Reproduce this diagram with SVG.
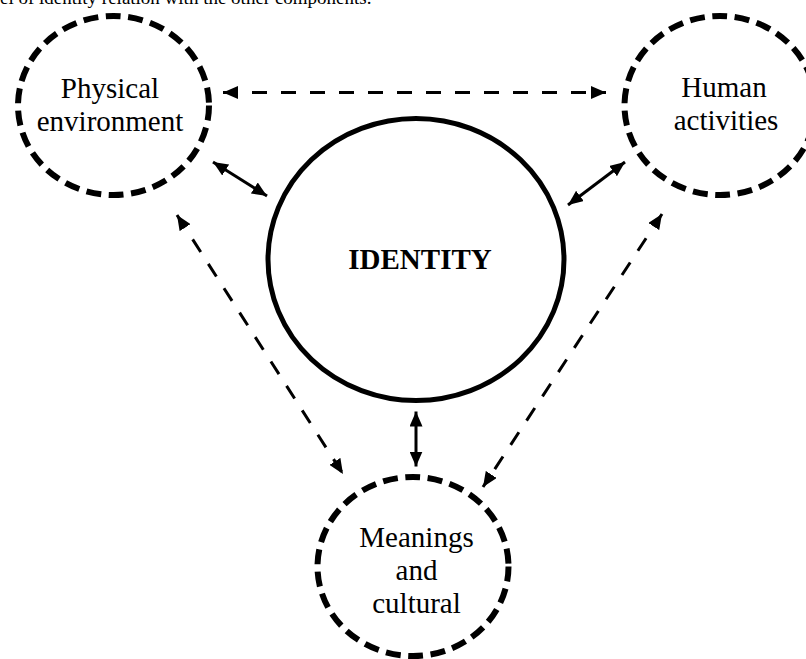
<svg xmlns="http://www.w3.org/2000/svg" width="806" height="659" viewBox="0 0 806 659">
<defs>
<style>
text{font-family:"Liberation Serif","Times New Roman",serif;fill:#000;}
.lbl{font-size:29px;text-anchor:middle;}
.dnode{fill:#fff;stroke:#000;stroke-width:6;stroke-dasharray:15 7.5;}
.snode{fill:#fff;stroke:#000;stroke-width:5;}
.dline{fill:none;stroke:#000;stroke-width:3;stroke-dasharray:15 14;}
.sline{fill:none;stroke:#000;stroke-width:3;}
</style>
<marker id="ah" viewBox="0 0 15 13" refX="15" refY="6.5" markerWidth="15" markerHeight="13" markerUnits="userSpaceOnUse" orient="auto-start-reverse">
<path d="M0,0 L15,6.5 L0,13 z" fill="#000"/>
</marker>
</defs>
<rect width="806" height="659" fill="#fff"/>
<text x="0" y="4" font-size="19">el of identity relation with the other components.</text>
<g id="connectors">
<line class="dline" x1="223" y1="92.5" x2="606" y2="92.5" marker-start="url(#ah)" marker-end="url(#ah)"/>
<line class="sline" x1="213" y1="162" x2="267" y2="196" marker-start="url(#ah)" marker-end="url(#ah)"/>
<line class="sline" x1="625" y1="162" x2="568" y2="205" marker-start="url(#ah)" marker-end="url(#ah)"/>
<line class="sline" x1="416" y1="411.5" x2="416" y2="466.5" marker-start="url(#ah)" marker-end="url(#ah)"/>
<line class="dline" x1="177" y1="215" x2="343" y2="474" marker-start="url(#ah)" marker-end="url(#ah)"/>
<line class="dline" x1="662" y1="214" x2="483" y2="487" marker-start="url(#ah)" marker-end="url(#ah)"/>
</g>
<g id="physical">
<ellipse class="dnode" cx="113.5" cy="105.5" rx="95.5" ry="89.5"/>
<text class="lbl" x="110" y="98">Physical</text>
<text class="lbl" x="110" y="131">environment</text>
</g>
<g id="human">
<ellipse class="dnode" cx="720" cy="105.5" rx="95.5" ry="89.5"/>
<text class="lbl" x="724" y="97">Human</text>
<text class="lbl" x="726" y="130">activities</text>
</g>
<g id="identity">
<ellipse class="snode" cx="416" cy="259.5" rx="148" ry="141"/>
<text class="lbl" x="420" y="269" font-weight="bold">IDENTITY</text>
</g>
<g id="meanings">
<ellipse class="dnode" cx="413" cy="566.5" rx="95.5" ry="89.5"/>
<text class="lbl" x="416.5" y="547">Meanings</text>
<text class="lbl" x="416.5" y="580">and</text>
<text class="lbl" x="416.5" y="613">cultural</text>
</g>
</svg>
